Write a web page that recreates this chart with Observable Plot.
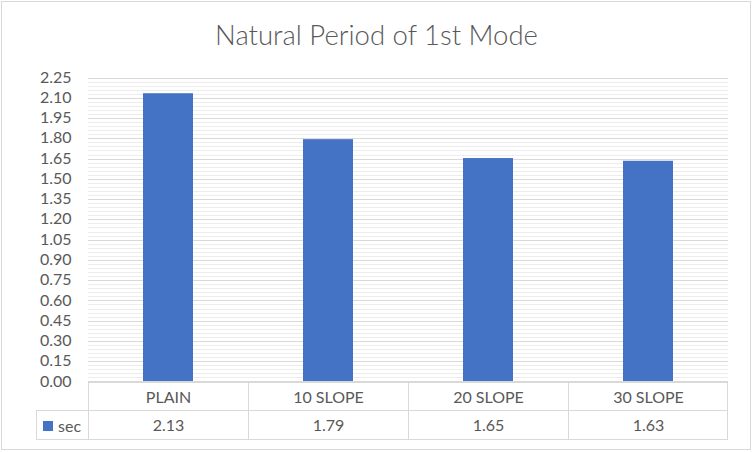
<!DOCTYPE html>
<html><head><meta charset="utf-8">
<script src="https://cdn.jsdelivr.net/npm/d3@7"></script>
<script src="https://cdn.jsdelivr.net/npm/@observablehq/plot@0.6"></script>
<style>
html,body{margin:0;padding:0;background:#fff;}
#wrap{position:relative;width:752px;height:452px;overflow:hidden;}
#border{position:absolute;left:1px;top:1px;width:748px;height:447px;border:1px solid #d9d9d9;pointer-events:none;}
</style></head><body>
<div id="wrap"><div id="chart"></div><div id="border"></div></div>
<script>
const title = "Natural Period of 1st Mode";
const categories = ["PLAIN", "10 SLOPE", "20 SLOPE", "30 SLOPE"];
const secValues = [2.13, 1.79, 1.65, 1.63];
const valueLabels = ["2.13", "1.79", "1.65", "1.63"];
const seriesName = "sec";
const yTicks = [0, 0.15, 0.30, 0.45, 0.60, 0.75, 0.90, 1.05, 1.20, 1.35, 1.50, 1.65, 1.80, 1.95, 2.10, 2.25];
const minorStep = 0.03;

const barColor = "#4472C4";
const textColor = "#595959";
const lineColor = "#d9d9d9";
const FONT = "Lato, 'Open Sans', sans-serif";

const data = categories.map((c, i) => ({cat: c, val: secValues[i], label: valueLabels[i]}));
const minorTicks = d3.range(0, Math.round(2.25 / minorStep) + 1).map(i => +(i * minorStep).toFixed(2));

function tableMark(index, scales, values, dims) {
  const g = d3.create("svg:g").attr("shape-rendering", "crispEdges");
  const x = scales.x, y = scales.y;
  const bw = x.bandwidth();
  const left = x(categories[0]);
  const right = x(categories[categories.length - 1]) + bw;
  const top = Math.round(y(0)) + 0.5;
  const mid = top + 29;
  const bot = top + 58;
  const legLeft = left - 52;
  const line = (x1, y1, x2, y2) => g.append("line")
    .attr("x1", x1).attr("y1", y1).attr("x2", x2).attr("y2", y2)
    .attr("stroke", lineColor).attr("stroke-width", 1);
  line(left, top, right, top);
  line(legLeft, mid, right, mid);
  line(legLeft, bot, right, bot);
  line(legLeft + 0.5, mid, legLeft + 0.5, bot);
  for (const c of categories) line(Math.round(x(c)) + 0.5, top, Math.round(x(c)) + 0.5, bot);
  line(Math.round(right) - 0.5, top, Math.round(right) - 0.5, bot);
  g.append("rect").attr("x", legLeft + 7).attr("y", mid + 10.5).attr("width", 10).attr("height", 10).attr("fill", barColor);
  g.append("text").attr("x", legLeft + 22).attr("y", mid + 15.5).attr("dy", "0.35em")
    .attr("text-anchor", "start").attr("shape-rendering", "auto")
    .attr("fill", textColor).attr("font-size", 16).attr("font-family", FONT).text(seriesName);
  return g.node();
}

const chart = Plot.plot({
  width: 752,
  height: 452,
  marginLeft: 88,
  marginRight: 24,
  marginTop: 77,
  marginBottom: 71,
  style: {fontFamily: FONT, fontSize: "16px", color: textColor, background: "transparent"},
  x: {domain: categories, padding: 0, axis: null},
  y: {domain: [0, 2.25], axis: null},
  marks: [
    Plot.ruleY(minorTicks, {stroke: "#ededed", shapeRendering: "crispEdges", dy: 0.5}),
    Plot.ruleY(yTicks, {stroke: lineColor, shapeRendering: "crispEdges", dy: 0.5}),
    Plot.axisY({ticks: yTicks, tickSize: 0, tickPadding: 17, tickFormat: d3.format(".2f"), fill: textColor, fontSize: 16, label: null}),
    Plot.barY(data, {x: "cat", y: "val", fill: barColor, insetLeft: 55, insetRight: 55}),
    tableMark,
    Plot.text(data, {x: "cat", y: () => 0, text: "cat", dy: 16, fill: textColor, fontSize: 16}),
    Plot.text(data, {x: "cat", y: () => 0, text: "label", dy: 44, fill: textColor, fontSize: 16}),
    Plot.text([title], {frameAnchor: "top", dx: -32, dy: -41, fontSize: 27.5, fontWeight: 300, fill: textColor, lineAnchor: "middle"})
  ]
});
document.getElementById("chart").appendChild(chart);
</script>
</body></html>
